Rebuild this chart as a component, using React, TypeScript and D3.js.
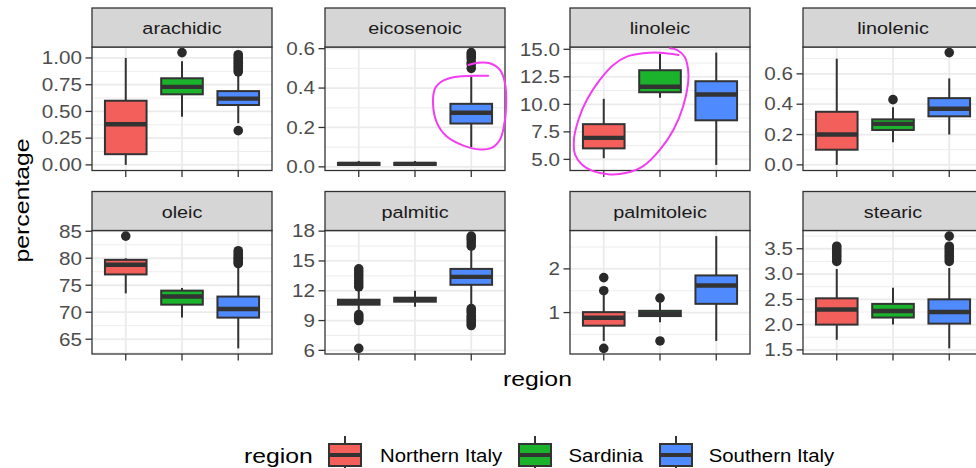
import React from 'react';
import * as d3 from 'd3';

// Regions (fill groups) and their colours
const regions = ['Northern Italy', 'Sardinia', 'Southern Italy'];
const regionFills = ['#F35F5B', '#1BB22C', '#508AFF'];

// Facets: one fatty acid per panel
const facets = ['arachidic', 'eicosenoic', 'linoleic', 'linolenic', 'oleic', 'palmitic', 'palmitoleic', 'stearic'];

// Box summaries per region: [lower whisker, Q1, median, Q3, upper whisker]
const arachidicStats = [[0.0, 0.10, 0.38, 0.60, 1.00], [0.45, 0.66, 0.73, 0.81, 0.97], [0.39, 0.56, 0.62, 0.69, 0.85]];
const eicosenoicStats = [[0.01, 0.01, 0.015, 0.02, 0.03], [0.01, 0.01, 0.015, 0.02, 0.03], [0.10, 0.22, 0.275, 0.32, 0.46]];
const linoleicStats = [[5.1, 6.0, 6.95, 8.2, 10.5], [10.6, 11.1, 11.6, 13.1, 14.6], [4.5, 8.55, 10.9, 12.1, 14.7]];
const linolenicStats = [[0.0, 0.10, 0.20, 0.35, 0.70], [0.15, 0.23, 0.27, 0.30, 0.38], [0.20, 0.32, 0.37, 0.44, 0.57]];
const oleicStats = [[73.5, 77.0, 78.8, 79.7, 80.0], [69.0, 71.4, 72.9, 74.0, 74.5], [63.3, 69.0, 70.6, 72.9, 78.3]];
const palmiticStats = [[9.9, 10.6, 10.85, 11.1, 12.0], [10.4, 10.9, 11.1, 11.3, 12.0], [10.5, 12.6, 13.4, 14.2, 16.2]];
const palmitoleicStats = [[0.35, 0.70, 0.88, 1.01, 1.40], [0.78, 0.92, 0.97, 1.04, 1.22], [0.35, 1.20, 1.62, 1.85, 2.75]];
const stearicStats = [[1.7, 2.0, 2.3, 2.52, 3.1], [2.0, 2.14, 2.27, 2.41, 2.73], [1.53, 2.02, 2.25, 2.5, 3.12]];

// Outlying points per region
const arachidicOutliers = [[], [1.05], [0.32, 0.87, 0.89, 0.91, 0.93, 0.95, 0.97, 0.99, 1.01, 1.03]];
const eicosenoicOutliers = [[], [], [0.50, 0.52, 0.53, 0.55, 0.56, 0.57, 0.58]];
const linoleicOutliers = [[], [], []];
const linolenicOutliers = [[], [0.43], [0.74]];
const oleicOutliers = [[84.1], [], [79.0, 79.3, 79.6, 79.9, 80.2, 80.6, 81.0, 81.4]];
const palmiticOutliers = [
  [6.2, 9.0, 9.2, 9.4, 9.6, 12.4, 12.7, 13.0, 13.3, 13.6, 13.9, 14.2],
  [],
  [8.5, 8.7, 8.9, 9.1, 9.3, 9.5, 9.8, 10.0, 10.2, 16.5, 16.8, 17.1, 17.3, 17.5],
];
const palmitoleicOutliers = [[0.18, 1.5, 1.8], [0.35, 1.33], []];
const stearicOutliers = [[3.25, 3.3, 3.35, 3.4, 3.45, 3.5, 3.55], [], [3.25, 3.3, 3.35, 3.4, 3.45, 3.5, 3.55, 3.75]];

// Y-axis breaks per facet
const arachidicTicks = [0, 0.25, 0.5, 0.75, 1];
const eicosenoicTicks = [0, 0.2, 0.4, 0.6];
const linoleicTicks = [5, 7.5, 10, 12.5, 15];
const linolenicTicks = [0, 0.2, 0.4, 0.6];
const oleicTicks = [65, 70, 75, 80, 85];
const palmiticTicks = [6, 9, 12, 15, 18];
const palmitoleicTicks = [1, 2];
const stearicTicks = [1.5, 2, 2.5, 3, 3.5];

const facetStats = [arachidicStats, eicosenoicStats, linoleicStats, linolenicStats, oleicStats, palmiticStats, palmitoleicStats, stearicStats];
const facetOutliers = [arachidicOutliers, eicosenoicOutliers, linoleicOutliers, linolenicOutliers, oleicOutliers, palmiticOutliers, palmitoleicOutliers, stearicOutliers];
const facetTicks = [arachidicTicks, eicosenoicTicks, linoleicTicks, linolenicTicks, oleicTicks, palmiticTicks, palmitoleicTicks, stearicTicks];

// Hand-drawn highlight loops, as (category position, value) in their facet
const eicosenoicLoop: [number, number][] = [
  [2.95, 0.517], [3.12, 0.529], [3.33, 0.526], [3.51, 0.492], [3.6, 0.425], [3.62, 0.307],
  [3.58, 0.205], [3.51, 0.138], [3.36, 0.096], [3.16, 0.088], [2.86, 0.108], [2.56, 0.155],
  [2.39, 0.223], [2.32, 0.324], [2.36, 0.40], [2.5, 0.438], [2.74, 0.458], [3.04, 0.462], [3.3, 0.462],
];
const linoleicLoop: [number, number][] = [
  [2.18, 15.09], [2.3, 14.94], [2.44, 14.3], [2.5, 13.13], [2.5, 11.95], [2.41, 9.78],
  [2.24, 7.7], [2.0, 5.89], [1.7, 4.38], [1.41, 3.78], [1.11, 3.63], [0.81, 3.93],
  [0.61, 4.53], [0.49, 5.44], [0.47, 6.79], [0.55, 8.6], [0.7, 10.41], [0.93, 12.22],
  [1.17, 13.58], [1.41, 14.33], [1.7, 14.64], [2.0, 14.69], [2.33, 14.49],
];

// Layout
const W = 976;
const H = 468;
const colLeft = [92, 325, 570, 803];
const panelW = 180;
const stripTop = [8, 191.5];
const stripH = 39;
const panelH = 123.5;
const FONT = "'Liberation Sans', Arial, Helvetica, sans-serif";
const SX = 1.18;
const INK = '#333333';
const GRID = '#EBEBEB';

type TxtProps = {
  x: number; y: number; size: number; fill?: string; anchor?: string; rotate?: number; sx?: number; dy?: string; children: React.ReactNode;
};
function Txt({ x, y, size, fill = '#000', anchor = 'start', rotate = 0, sx = SX, dy, children }: TxtProps) {
  return (
    <text
      transform={`translate(${x},${y}) rotate(${rotate}) scale(${sx},1)`}
      fontFamily={FONT}
      fontSize={size}
      fill={fill}
      textAnchor={anchor as any}
      dy={dy}
    >
      {children}
    </text>
  );
}

function decimals(v: number) {
  const s = String(v);
  return s.includes('.') ? s.split('.')[1].length : 0;
}

function facetScales(i: number) {
  const col = i % 4;
  const row = Math.floor(i / 4);
  const left = colLeft[col];
  const top = stripTop[row] + stripH;
  const bottom = top + panelH;
  const x = d3.scaleLinear().domain([0.4, 3.6]).range([left, left + panelW]);
  const vals = [...facetStats[i].flat(), ...facetOutliers[i].flat()];
  const [lo, hi] = d3.extent(vals) as [number, number];
  const pad = (hi - lo) * 0.05;
  const y = d3.scaleLinear().domain([lo - pad, hi + pad]).range([bottom, top]);
  return { x, y, left, top, bottom, row };
}

function Facet({ i }: { i: number }) {
  const { x, y, left, top, bottom, row } = facetScales(i);
  const ticks = facetTicks[i];
  const [d0, d1] = y.domain();
  const step = ticks.length > 1 ? ticks[1] - ticks[0] : 1;
  const minor = [ticks[0] - step / 2, ...ticks.slice(1).map((t, k) => (t + ticks[k]) / 2), ticks[ticks.length - 1] + step / 2]
    .filter((v) => v > d0 && v < d1);
  const dec = d3.max(ticks, decimals) || 0;
  const fmt = d3.format(`.${dec}f`);
  const half = x(0.37) - x(0);
  const sTop = stripTop[row];

  return (
    <g>
      <rect x={left} y={top} width={panelW} height={panelH} fill="#fff" />
      {minor.map((v) => (
        <line key={`mi${v}`} x1={left} x2={left + panelW} y1={y(v)} y2={y(v)} stroke={GRID} strokeWidth={0.9} />
      ))}
      {ticks.map((v) => (
        <line key={`ma${v}`} x1={left} x2={left + panelW} y1={y(v)} y2={y(v)} stroke={GRID} strokeWidth={1.8} />
      ))}
      {regions.map((r, k) => (
        <line key={`vx${r}`} x1={x(k + 1)} x2={x(k + 1)} y1={top} y2={bottom} stroke={GRID} strokeWidth={1.8} />
      ))}
      {facetStats[i].map((s, k) => {
        const cx = x(k + 1);
        const [lw, q1, med, q3, uw] = s;
        return (
          <g key={`box${k}`}>
            <line x1={cx} x2={cx} y1={y(lw)} y2={y(q1)} stroke={INK} strokeWidth={2} />
            <line x1={cx} x2={cx} y1={y(q3)} y2={y(uw)} stroke={INK} strokeWidth={2} />
            <rect x={cx - half} y={y(q3)} width={half * 2} height={Math.max(0, y(q1) - y(q3))} fill={regionFills[k]} stroke={INK} strokeWidth={2} />
            <line x1={cx - half} x2={cx + half} y1={y(med)} y2={y(med)} stroke={INK} strokeWidth={4.4} />
            {facetOutliers[i][k].map((o, j) => (
              <circle key={j} cx={cx} cy={y(o)} r={4.8} fill="#2A2A2A" />
            ))}
          </g>
        );
      })}
      <rect x={left} y={top} width={panelW} height={panelH} fill="none" stroke={INK} strokeWidth={1.3} />
      <rect x={left} y={sTop} width={panelW} height={stripH} fill="#D6D6D6" stroke={INK} strokeWidth={1.3} />
      <Txt x={left + panelW / 2} y={sTop + stripH / 2 + 6.8} size={16.8} fill="#1A1A1A" anchor="middle">
        {facets[i]}
      </Txt>
      {ticks.map((v) => (
        <g key={`yt${v}`}>
          <line x1={left - 6.5} x2={left} y1={y(v)} y2={y(v)} stroke={INK} strokeWidth={1.3} />
          <Txt x={left - 10} y={y(v)} size={17.5} fill="#4D4D4D" anchor="end" dy="0.36em">
            {fmt(v)}
          </Txt>
        </g>
      ))}
      {regions.map((r, k) => (
        <line key={`xt${r}`} x1={x(k + 1)} x2={x(k + 1)} y1={bottom} y2={bottom + 6.5} stroke={INK} strokeWidth={1.3} />
      ))}
    </g>
  );
}

function Loop({ i, pts }: { i: number; pts: [number, number][] }) {
  const { x, y } = facetScales(i);
  const path = d3
    .line<[number, number]>()
    .x((d) => x(d[0]))
    .y((d) => y(d[1]))
    .curve(d3.curveCatmullRom.alpha(0.5))(pts);
  return <path d={path || ''} fill="none" stroke="#F43DF2" strokeWidth={2} strokeLinecap="round" />;
}

// Legend layout
const legendKeyX = [329, 519, 660];
const legendTextX = [380, 568.5, 708.7];
const legendY = 455;
const keyW = 32;
const keyH = 22;

export default function App() {
  return (
    <svg width={W} height={H} style={{ position: 'absolute', left: 0, top: 0, background: '#fff' }}>
      <rect x={0} y={0} width={W} height={H} fill="#fff" />
      {facets.map((f, i) => (
        <Facet key={f} i={i} />
      ))}
      <Loop i={1} pts={eicosenoicLoop} />
      <Loop i={2} pts={linoleicLoop} />

      <Txt x={537.5} y={385.5} size={21} anchor="middle">region</Txt>
      <Txt x={28.5} y={200.5} size={21} anchor="middle" rotate={-90}>percentage</Txt>

      <Txt x={244} y={463} size={21}>region</Txt>
      {regions.map((r, k) => {
        const kx = legendKeyX[k];
        const cx = kx + keyW / 2;
        return (
          <g key={r}>
            <line x1={cx} x2={cx} y1={legendY - 19} y2={legendY + 19} stroke={INK} strokeWidth={2} />
            <rect x={kx} y={legendY - keyH / 2} width={keyW} height={keyH} fill={regionFills[k]} stroke={INK} strokeWidth={2} />
            <line x1={kx} x2={kx + keyW} y1={legendY} y2={legendY} stroke={INK} strokeWidth={4} />
            <Txt x={legendTextX[k]} y={legendY} size={18.5} sx={1.1} dy="0.36em">{r}</Txt>
          </g>
        );
      })}
    </svg>
  );
}
